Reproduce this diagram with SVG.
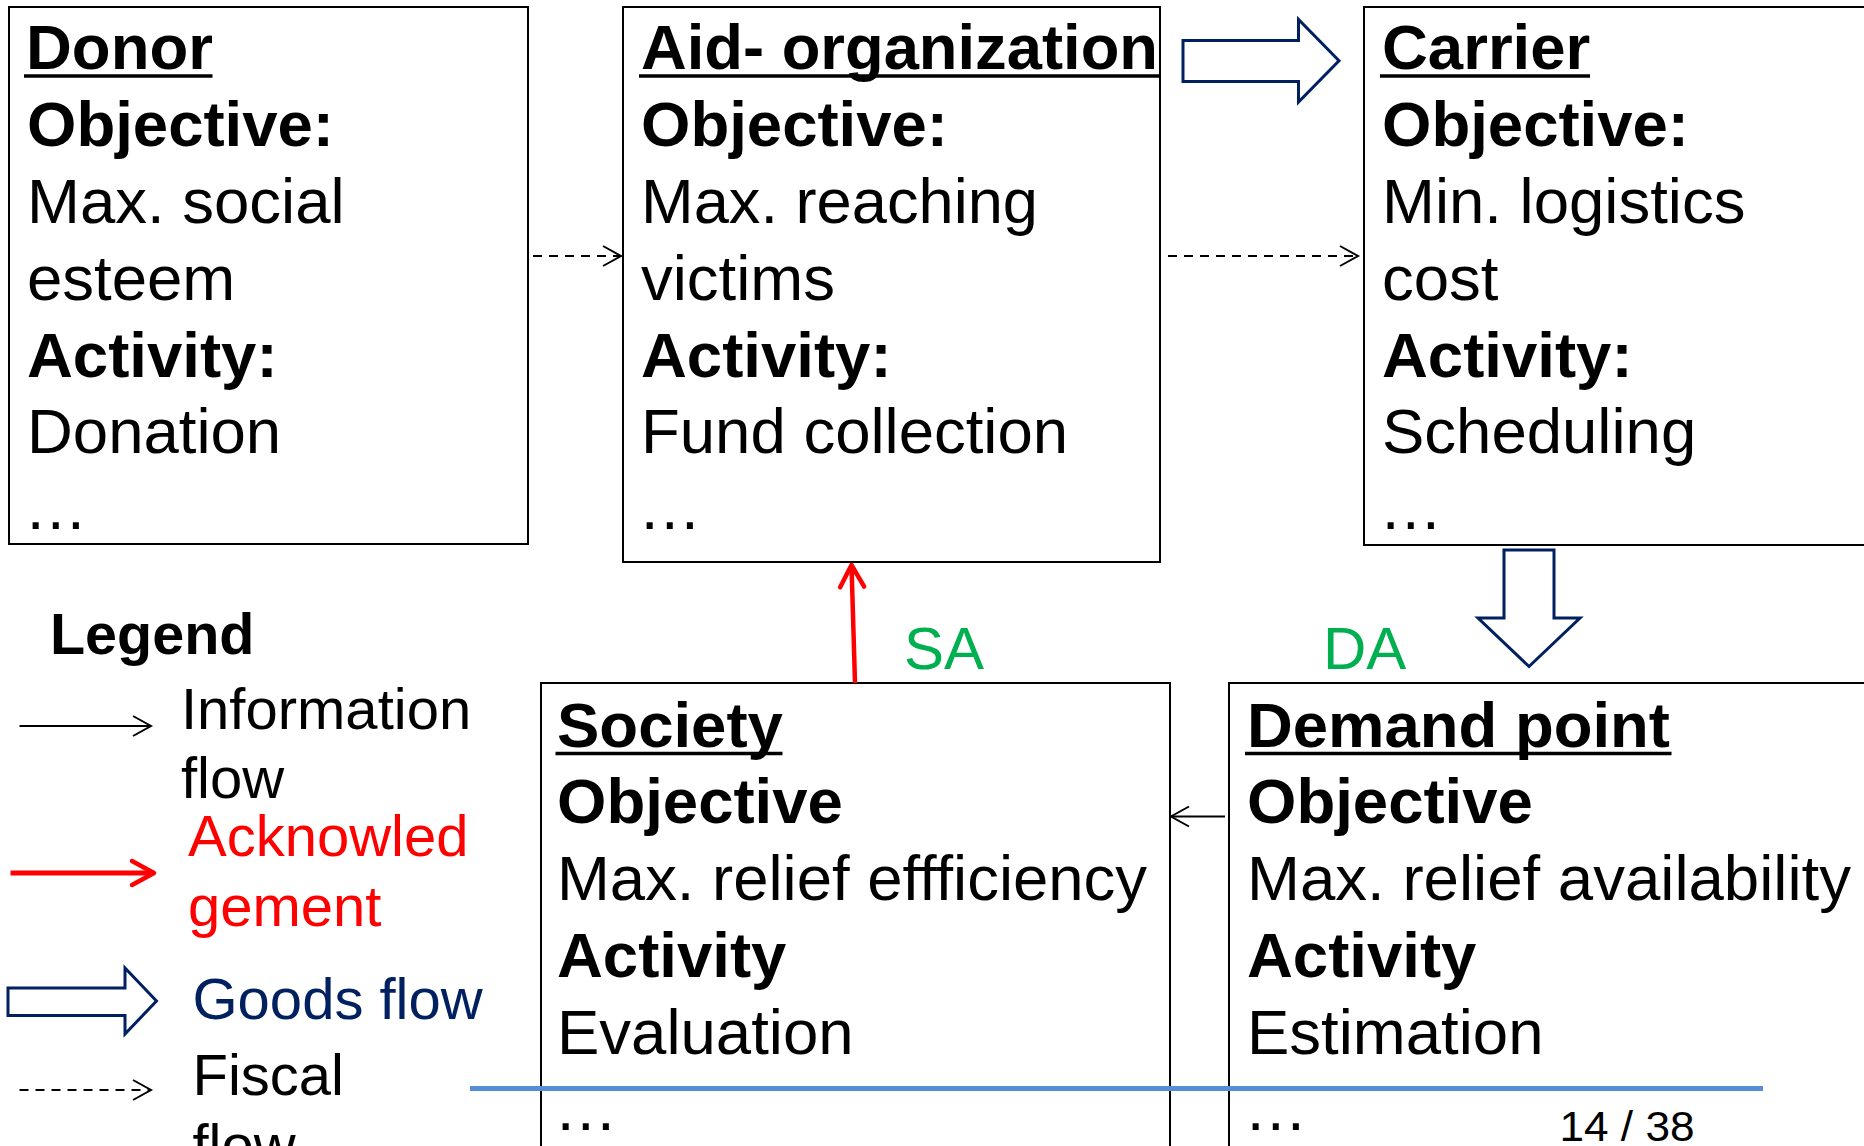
<svg xmlns="http://www.w3.org/2000/svg" width="1864" height="1146" viewBox="0 0 1864 1146">
<style>
.box{fill:#fff;stroke:#000;stroke-width:2}
.t{font-family:"Liberation Sans",Arial,sans-serif;font-size:63.5px;fill:#000}
.lg{font-family:"Liberation Sans",Arial,sans-serif;font-size:58px;fill:#000}
.b{font-weight:bold}
.ul{stroke:#000;stroke-width:3.5}
.info{stroke:#000;stroke-width:2;fill:none}
.fiscal{stroke:#000;stroke-width:2;stroke-dasharray:9 7;fill:none}
.ack{stroke:#f00;stroke-width:4.5;fill:none}
.goods{fill:#fff;stroke:#002060;stroke-width:3}
.green{font-family:"Liberation Sans",Arial,sans-serif;font-size:60px;fill:#00B050}
</style>
<defs>
<marker id="chev" markerUnits="userSpaceOnUse" markerWidth="30" markerHeight="30" viewBox="-24 -15 30 30" refX="0" refY="0" orient="auto" overflow="visible">
<path d="M-18,-10 L0,0 L-18,10" fill="none" stroke="#000" stroke-width="2"/>
</marker>
<marker id="redchev" markerUnits="userSpaceOnUse" markerWidth="40" markerHeight="40" viewBox="-30 -20 40 40" refX="0" refY="0" orient="auto" overflow="visible">
<path d="M-22,-12 L0,0 L-22,12" fill="none" stroke="#f00" stroke-width="4.5" stroke-linecap="round" stroke-linejoin="round"/>
</marker>
</defs>
<rect width="1864" height="1146" fill="#fff"/>

<g id="donor">
<rect class="box" x="9" y="7" width="519" height="537"/>
<text class="t b" x="26" y="69">Donor</text>
<line class="ul" x1="24" y1="76" x2="212.5" y2="76"/>
<text class="t b" x="27" y="146">Objective:</text>
<text class="t" x="27" y="223">Max. social</text>
<text class="t" x="27" y="300">esteem</text>
<text class="t b" x="27" y="377">Activity:</text>
<text class="t" x="27" y="453">Donation</text>
<text class="t" x="24" y="529">…</text>
</g>

<g id="aid-organization">
<rect class="box" x="623" y="7" width="537" height="555"/>
<text class="t b" x="641" y="69" textLength="517" lengthAdjust="spacingAndGlyphs">Aid- organization</text>
<line class="ul" x1="639" y1="76" x2="1160" y2="76"/>
<text class="t b" x="641" y="146">Objective:</text>
<text class="t" x="641" y="223" textLength="397" lengthAdjust="spacingAndGlyphs">Max. reaching</text>
<text class="t" x="641" y="300">victims</text>
<text class="t b" x="641" y="377">Activity:</text>
<text class="t" x="641" y="453">Fund collection</text>
<text class="t" x="638" y="529">…</text>
</g>

<g id="carrier">
<rect class="box" x="1364" y="7" width="510" height="538"/>
<text class="t b" x="1382" y="69">Carrier</text>
<line class="ul" x1="1380" y1="76" x2="1590" y2="76"/>
<text class="t b" x="1382" y="146">Objective:</text>
<text class="t" x="1382" y="223">Min. logistics</text>
<text class="t" x="1382" y="300">cost</text>
<text class="t b" x="1382" y="377">Activity:</text>
<text class="t" x="1382" y="453">Scheduling</text>
<text class="t" x="1379" y="529">…</text>
</g>

<g id="society">
<rect class="box" x="541" y="683" width="629" height="480"/>
<text class="t b" x="557" y="746.5">Society</text>
<line class="ul" x1="555.5" y1="753.5" x2="782.5" y2="753.5"/>
<text class="t b" x="557" y="823">Objective</text>
<text class="t" x="557" y="900" textLength="590" lengthAdjust="spacingAndGlyphs">Max. relief effficiency</text>
<text class="t b" x="557" y="977">Activity</text>
<text class="t" x="557" y="1054">Evaluation</text>
<text class="t" x="554" y="1130">…</text>
</g>

<g id="demand-point">
<rect class="box" x="1229" y="683" width="650" height="480"/>
<text class="t b" x="1247" y="746.5" textLength="423" lengthAdjust="spacingAndGlyphs">Demand point</text>
<line class="ul" x1="1245" y1="753.5" x2="1671.5" y2="753.5"/>
<text class="t b" x="1247" y="823">Objective</text>
<text class="t" x="1247" y="900" textLength="604" lengthAdjust="spacingAndGlyphs">Max. relief availability</text>
<text class="t b" x="1247" y="977">Activity</text>
<text class="t" x="1247" y="1054">Estimation</text>
<text class="t" x="1244" y="1130">…</text>
</g>

<g id="connectors">
<line class="fiscal" x1="533" y1="256" x2="621" y2="256" marker-end="url(#chev)"/>
<line class="fiscal" x1="1168" y1="256" x2="1358" y2="256" marker-end="url(#chev)"/>
<polygon class="goods" points="1183,40.5 1298.5,40.5 1298.5,19.5 1339,60.7 1298.5,102 1298.5,81.5 1183,81.5"/>
<polygon class="goods" points="1504,550 1554,550 1554,618 1580,618 1529,666.5 1478,618 1504,618"/>
<line class="ack" x1="855" y1="683" x2="851.5" y2="565" marker-end="url(#redchev)"/>
<line class="info" x1="1225" y1="816.5" x2="1171" y2="816.5" marker-end="url(#chev)"/>
<text class="green" x="904" y="669">SA</text>
<text class="green" x="1323" y="669">DA</text>
</g>

<g id="legend">
<text class="lg b" x="50" y="654" style="font-size:57.5px">Legend</text>
<line class="info" x1="19.5" y1="726" x2="151" y2="726" marker-end="url(#chev)"/>
<text class="lg" x="181" y="728.5">Information</text>
<text class="lg" x="181" y="798">flow</text>
<line class="ack" x1="10.5" y1="873" x2="154" y2="873" marker-end="url(#redchev)" style="stroke-width:5"/>
<text class="lg" x="188" y="856" fill="#f00" style="fill:#f00">Acknowled</text>
<text class="lg" x="188" y="925.5" style="fill:#f00">gement</text>
<polygon class="goods" points="8,988 125,988 125,968 156.5,1001 125,1034 125,1015.5 8,1015.5"/>
<text class="lg" x="192.5" y="1019" style="fill:#002060">Goods flow</text>
<line class="fiscal" x1="19.5" y1="1090" x2="151" y2="1090" marker-end="url(#chev)"/>
<text class="lg" x="192.5" y="1095">Fiscal</text>
<text class="lg" x="192.5" y="1164.5">flow</text>
</g>

<line x1="470" y1="1088.5" x2="1763" y2="1088.5" stroke="#558ED5" stroke-width="5"/>
<text x="1559.5" y="1141" font-family="Liberation Sans Narrow, Liberation Sans, Arial, sans-serif" font-size="42" textLength="135" lengthAdjust="spacingAndGlyphs" fill="#000">14 / 38</text>
</svg>
